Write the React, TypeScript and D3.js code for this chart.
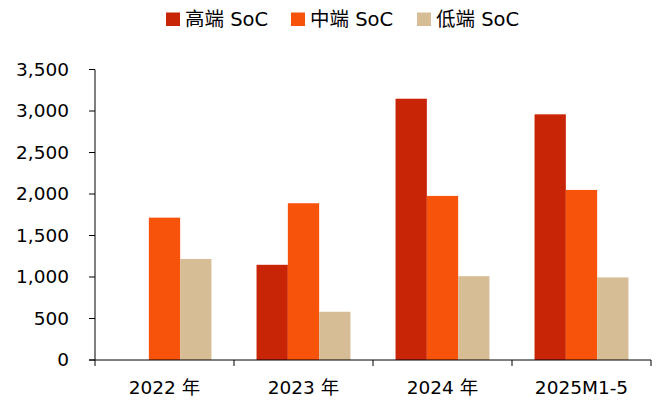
import React from "react";
import * as d3 from "d3";

const categories = ["2022 年", "2023 年", "2024 年", "2025M1-5"];
const seriesNames = ["高端 SoC", "中端 SoC", "低端 SoC"];
const highEnd: (number | null)[] = [null, 1147, 3148, 2960];
const midEnd: number[] = [1715, 1889, 1977, 2049];
const lowEnd: number[] = [1217, 581, 1010, 995];
const yTicks = [0, 500, 1000, 1500, 2000, 2500, 3000, 3500];
const colors = ["#C82506", "#F8530B", "#D6BD96"];

const W = 662;
const H = 403;
const left = 95;
const right = 651;
const top = 69.5;
const bottom = 360;
const font = "Tahoma, 'DejaVu Sans', 'Noto Sans CJK SC', sans-serif";

export default function App() {
  const x = d3.scaleBand<string>().domain(categories).range([left, right]).paddingInner(0).paddingOuter(0);
  const inner = d3.scaleBand<number>().domain([0, 1, 2]).range([0, x.bandwidth()]).paddingInner(0).paddingOuter(0.72);
  const y = d3.scaleLinear().domain([0, 3500]).range([bottom, top]);
  const series = [highEnd, midEnd, lowEnd];
  const fmt = d3.format(",");
  const legendX = [166, 291, 417];

  return (
    <svg width={W} height={H} style={{ position: "absolute", left: 0, top: 0, background: "#fff" }}>
      {series.map((vals, si) =>
        vals.map((v, ci) =>
          v == null ? null : (
            <rect
              key={`${si}-${ci}`}
              x={(x(categories[ci]) as number) + (inner(si) as number)}
              y={y(v)}
              width={inner.bandwidth()}
              height={bottom - y(v)}
              fill={colors[si]}
            />
          )
        )
      )}
      {/* y axis */}
      <line x1={left} x2={left} y1={top} y2={bottom} stroke="#000" strokeWidth={1} />
      {yTicks.map((t) => (
        <g key={t}>
          <line x1={left - 6} x2={left} y1={y(t)} y2={y(t)} stroke="#000" strokeWidth={1} />
          <text x={69} y={y(t)} dy="0.35em" textAnchor="end" fontFamily={font} fontSize={18.5} fill="#000">
            {fmt(t)}
          </text>
        </g>
      ))}
      {/* x axis */}
      <line x1={left - 6} x2={right} y1={bottom} y2={bottom} stroke="#000" strokeWidth={1} />
      {[...categories.map((c) => x(c) as number), right].map((p, i) => (
        <line key={i} x1={p} x2={p} y1={bottom} y2={bottom + 6} stroke="#000" strokeWidth={1} />
      ))}
      {categories.map((c) => (
        <text
          key={c}
          x={(x(c) as number) + x.bandwidth() / 2}
          y={394}
          textAnchor="middle"
          fontFamily={font}
          fontSize={18.5}
          fill="#000"
        >
          {c}
        </text>
      ))}
      {/* legend */}
      {seriesNames.map((n, i) => (
        <g key={n}>
          <rect x={legendX[i]} y={12.5} width={14} height={13.5} fill={colors[i]} />
          <text x={legendX[i] + 19} y={19.5} dy="0.35em" fontFamily={font} fontSize={19.5} fill="#000">
            {n}
          </text>
        </g>
      ))}
    </svg>
  );
}
